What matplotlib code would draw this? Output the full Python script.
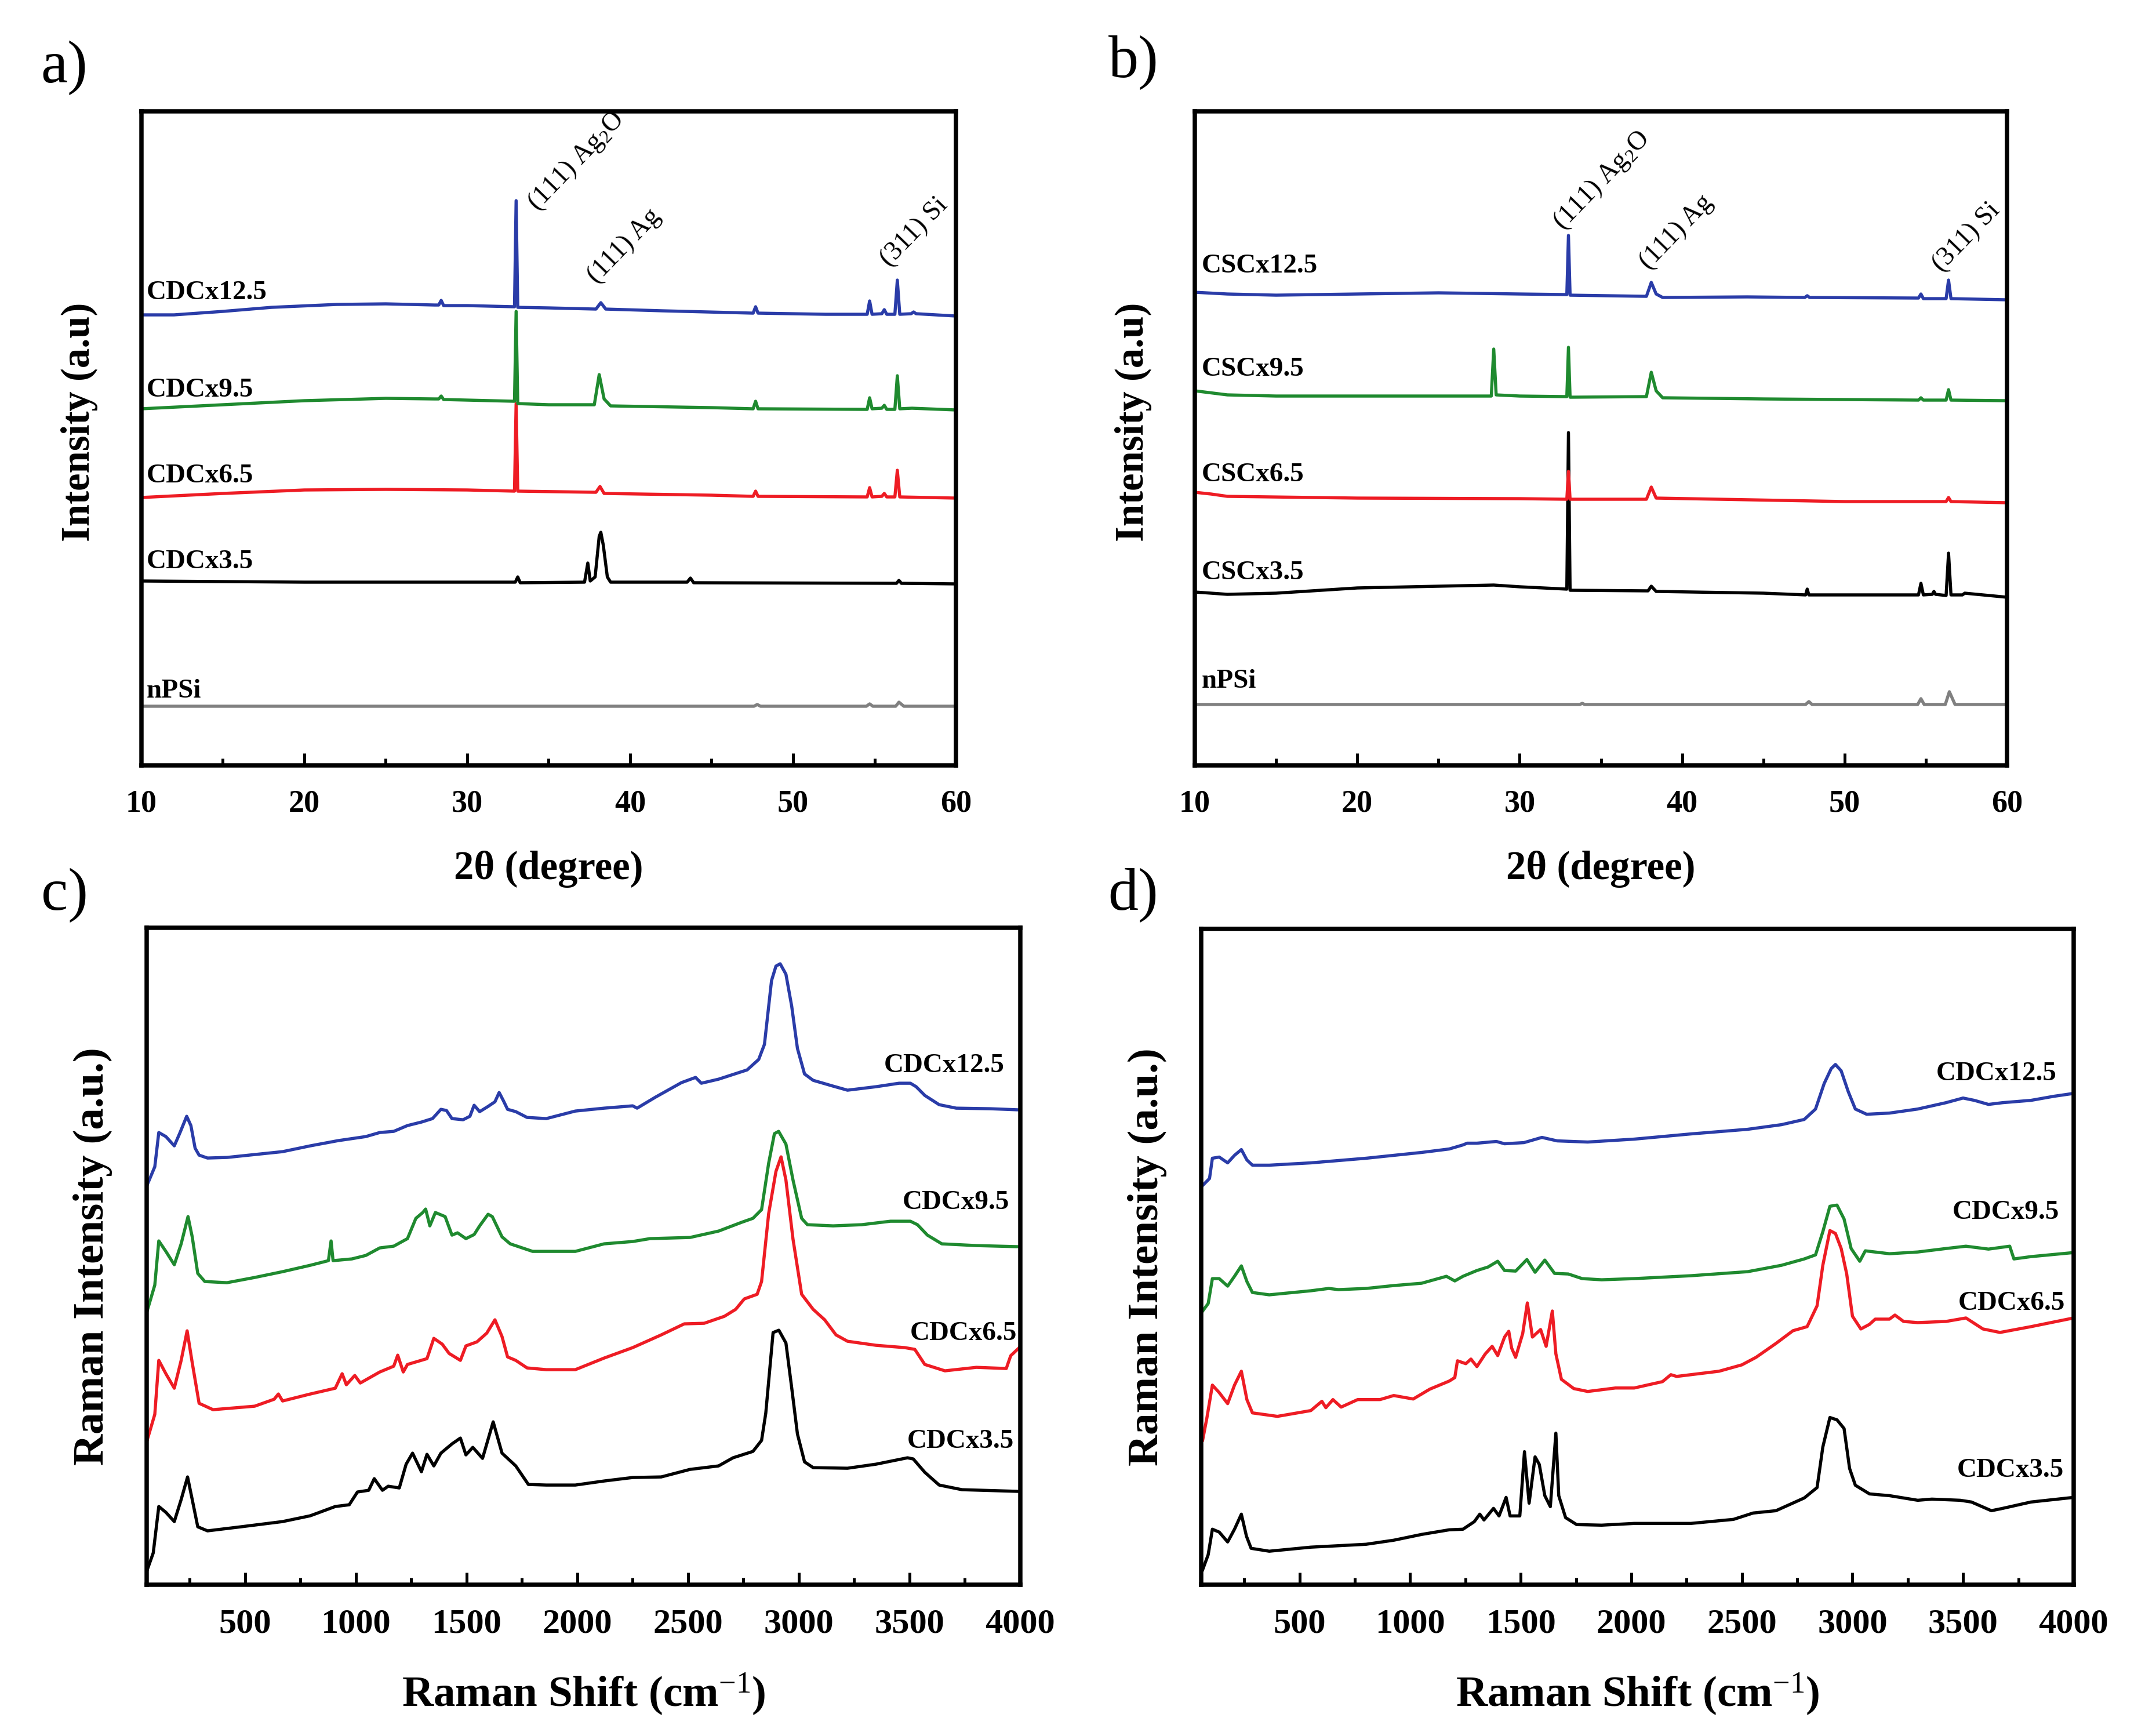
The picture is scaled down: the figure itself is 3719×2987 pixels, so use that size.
import matplotlib
matplotlib.use("Agg")
import matplotlib.pyplot as plt
from matplotlib.ticker import MultipleLocator

plt.rcParams["font.family"] = ["Liberation Serif", "DejaVu Serif"]
plt.rcParams["mathtext.fontset"] = "custom"
plt.rcParams["mathtext.rm"] = "Liberation Serif"
plt.rcParams["mathtext.it"] = "Liberation Serif:italic"
plt.rcParams["mathtext.bf"] = "Liberation Serif:bold"

BLUE = "#2A3CA8"
GREEN = "#1F8A2F"
RED = "#EE1C24"
BLACK = "#000000"
GREY = "#808080"

# ---------------- (a) XRD, CDC samples ----------------
a_cdc125_x = [10, 12, 15, 18, 22, 25, 28, 28.25, 28.4, 28.55, 30, 32.9, 33.0, 33.1, 35, 37.9, 38.2, 38.5,
              42, 47.55, 47.7, 47.85, 52, 54.55, 54.7, 54.85, 55.45, 55.6, 55.75, 56.25, 56.4, 56.55,
              57.25, 57.4, 57.55, 60]
a_cdc125_y = [777, 777, 783, 790, 795, 796, 794, 794, 802, 793, 793, 791, 974, 790, 789, 787, 798, 787,
              784, 780, 791, 780, 778, 778, 801, 778, 779, 786, 778, 778, 837, 778, 779, 782, 779, 775]
a_cdc95_x = [10, 15, 20, 25, 28, 28.25, 28.4, 28.55, 30, 32.9, 33.0, 33.1, 35, 37.8, 38.1, 38.4, 38.8, 45,
             47.55, 47.7, 47.85, 54.55, 54.7, 54.85, 55.45, 55.6, 55.75, 56.25, 56.4, 56.55, 57.3, 60]
a_cdc95_y = [615, 622, 629, 633, 632, 632, 637, 631, 630, 628, 783, 624, 622, 622, 674, 632, 620, 617,
             615, 628, 615, 614, 634, 615, 616, 621, 614, 614, 672, 615, 616, 613]
a_cdc65_x = [10, 15, 20, 25, 30, 32.9, 33.0, 33.1, 37.9, 38.15, 38.4, 45, 47.55, 47.7, 47.85, 54.55, 54.7,
             54.85, 55.45, 55.6, 55.75, 56.25, 56.4, 56.55, 60]
a_cdc65_y = [462, 469, 475, 476, 475, 473, 624, 473, 471, 481, 469, 466, 464, 473, 464, 463, 479,
             463, 464, 469, 463, 463, 509, 463, 461]
a_cdc35_x = [10, 20, 30, 32.95, 33.1, 33.25, 37.2, 37.4, 37.55, 37.85, 38.1, 38.2, 38.35, 38.6, 38.8,
             43.5, 43.7, 43.9, 56.35, 56.5, 56.65, 60]
a_cdc35_y = [318, 316, 316, 316, 325, 315, 316, 349, 318, 325, 395, 402, 380, 325, 316,
             316, 323, 315, 314, 319, 314, 313]
a_npsi_x = [10, 47.6, 47.8, 48.0, 54.5, 54.7, 54.9, 56.3, 56.5, 56.8, 60]
a_npsi_y = [102, 102, 105, 102, 102, 106, 102, 102, 109, 102, 102]

# ---------------- (b) XRD, CSC samples ----------------
b_csc125_x = [10, 12, 15, 20, 25, 30, 32.9, 33.0, 33.1, 37.8, 38.1, 38.4, 38.8, 44, 47.55, 47.7, 47.85,
              54.55, 54.7, 54.85, 56.25, 56.4, 56.55, 60]
b_csc125_y = [816, 813, 811, 813, 815, 813, 812, 914, 811, 809, 833, 813, 807, 808, 807, 810, 807,
              806, 813, 805, 805, 837, 805, 803]
b_csc95_x = [10, 12, 15, 20, 28.25, 28.4, 28.55, 30, 32.9, 33.0, 33.1, 37.8, 38.1, 38.4, 38.8, 45,
             54.55, 54.7, 54.85, 56.25, 56.4, 56.55, 60]
b_csc95_y = [646, 639, 637, 637, 637, 718, 639, 637, 636, 721, 635, 636, 678, 646, 634, 632,
             630, 634, 630, 630, 648, 630, 629]
b_csc65_x = [10, 11, 12, 20, 30, 32.9, 33.0, 33.1, 37.8, 38.1, 38.4, 50, 56.25, 56.4, 56.55, 60]
b_csc65_y = [471, 468, 464, 461, 460, 459, 507, 459, 459, 480, 461, 455, 455, 462, 455, 453]
b_csc35_x = [10, 12, 15, 20, 25, 28.4, 30, 32.9, 33.0, 33.1, 37.9, 38.1, 38.4, 45, 47.6, 47.7, 47.8,
             54.55, 54.7, 54.85, 55.4, 55.5, 55.6, 56.25, 56.4, 56.55, 57.25, 57.4, 60]
b_csc35_y = [299, 295, 297, 306, 309, 311, 308, 304, 574, 302, 301, 309, 300, 297, 294, 304, 294,
             294, 314, 294, 295, 300, 295, 293, 366, 294, 294, 297, 290]
b_npsi_x = [10, 33.7, 33.85, 34.0, 47.6, 47.8, 48.0, 54.5, 54.7, 54.9, 56.2, 56.45, 56.8, 60]
b_npsi_y = [105, 105, 107, 105, 105, 110, 105, 105, 115, 105, 105, 127, 105, 105]

# ---------------- (c) Raman, set 1 ----------------
c_cdc125_x = [58, 92, 110, 142, 180, 205, 236, 255, 274, 292, 330, 418, 543, 669, 794, 920, 1045, 1108,
              1171, 1233, 1296, 1346, 1384, 1409, 1434, 1484, 1515, 1534, 1559, 1597, 1628, 1647, 1666,
              1685, 1722, 1773, 1860, 1991, 2121, 2250, 2270, 2353, 2470, 2534, 2560, 2638, 2767, 2819,
              2845, 2877, 2897, 2916, 2942, 2968, 2994, 3026, 3065, 3155, 3220, 3349, 3453, 3504, 3530,
              3569, 3634, 3711, 3866, 4000]
c_cdc125_y = [690, 721, 780, 773, 757, 779, 808, 792, 753, 741, 736, 737, 742, 747, 757, 766, 773, 780,
              782, 792, 798, 804, 820, 818, 804, 802, 808, 827, 816, 825, 833, 849, 835,
              820, 816, 806, 804, 817, 822, 826, 822, 841, 866, 875, 865, 872, 888, 906,
              932, 1042, 1067, 1071, 1053, 998, 925, 881, 870, 860, 853, 859, 865, 865, 859,
              844, 828, 822, 821, 819]
c_cdc95_x = [58, 92, 110, 142, 180, 211, 242, 261, 286, 318, 418, 543, 669, 794, 876, 888, 897, 982,
             1045, 1108, 1171, 1233, 1271, 1302, 1315, 1334, 1359, 1403, 1434, 1459, 1497, 1534, 1559,
             1597, 1616, 1660, 1697, 1798, 1991, 2121, 2250, 2328, 2509, 2638, 2741, 2793, 2832, 2864,
             2890, 2909, 2942, 2974, 3013, 3039, 3155, 3284, 3414, 3504, 3536, 3581, 3646, 3802, 4000]
c_cdc95_y = [473, 517, 593, 575, 552, 588, 635, 600, 537, 523, 521, 530, 540, 551, 559, 593, 559, 562,
             568, 581, 584, 597, 632, 642, 648, 619, 642, 635, 603, 607, 597, 604, 619,
             639, 635, 600, 588, 575, 575, 588, 592, 597, 599, 610, 625, 632, 647, 727,
             778, 782, 760, 698, 632, 621, 619, 621, 627, 627, 621, 603, 588, 585, 583]
c_cdc65_x = [58, 92, 110, 142, 180, 211, 238, 261, 292, 355, 543, 631, 650, 669, 794, 907, 938, 957, 995,
             1020, 1108, 1171, 1189, 1214, 1233, 1321, 1352, 1390, 1421, 1472, 1497, 1547, 1591, 1628,
             1660, 1685, 1722, 1773, 1860, 1991, 2121, 2250, 2379, 2483, 2573, 2664, 2715, 2754, 2812,
             2832, 2864, 2897, 2920, 2942, 2974, 3013, 3065, 3117, 3168, 3220, 3349, 3479, 3524, 3569,
             3660, 3802, 3937, 3957, 3996]
c_cdc65_y = [250, 294, 387, 364, 339, 387, 438, 383, 313, 302, 308, 320, 329, 317, 329, 339, 364, 345, 361,
             348, 367, 377, 396, 367, 380, 390, 425, 415, 399, 387, 412, 419, 434, 457,
             428, 393, 387, 374, 371, 371, 391, 409, 431, 450, 451, 463, 475, 493, 501,
             523, 640, 713, 738, 698, 596, 501, 475, 457, 431, 420, 413, 409, 406, 380,
             369, 375, 373, 395, 409]
c_cdc35_x = [58, 85, 110, 142, 180, 211, 240, 261, 286, 330, 481, 669, 794, 907, 970, 1007, 1058, 1083,
             1120, 1146, 1196, 1227, 1256, 1296, 1321, 1352, 1384, 1434, 1472, 1497, 1528, 1572, 1620,
             1660, 1722, 1779, 1860, 1991, 2121, 2250, 2379, 2509, 2638, 2703, 2793, 2832, 2851, 2884,
             2910, 2942, 2968, 2994, 3026, 3065, 3220, 3349, 3491, 3517, 3569, 3634, 3737, 4000]
c_cdc35_y = [26, 55, 135, 125, 109, 147, 186, 147, 100, 93, 100, 109, 119, 135, 138, 160, 163, 183,
             163, 170, 167, 208, 227, 195, 225, 205, 227, 243, 253, 224, 237, 218, 281,
             227, 205, 173, 172, 172, 179, 185, 186, 199, 205, 219, 230, 249, 296, 435,
             439, 417, 340, 260, 212, 202, 201, 208, 219, 217, 194, 172, 164, 161]

# ---------------- (d) Raman, set 2 ----------------
d_cdc125_x = [62, 93, 106, 137, 175, 206, 237, 262, 287, 363, 551, 801, 926, 1052, 1177, 1239, 1258, 1302,
              1390, 1427, 1515, 1596, 1665, 1803, 2013, 2269, 2526, 2679, 2782, 2833, 2872, 2904, 2923,
              2949, 2981, 3013, 3064, 3167, 3295, 3423, 3500, 3551, 3615, 3679, 3807, 3910, 4000]
d_cdc125_y = [690, 702, 737, 739, 729, 742, 752, 734, 725, 725, 729, 737, 742, 747, 753, 760, 763, 763,
              766, 762, 764, 773, 767, 765, 770, 779, 787, 795, 804, 822, 866, 892, 899,
              888, 852, 822, 813, 815, 822, 833, 841, 837, 830, 833, 837, 844, 849]
d_cdc95_x = [62, 87, 106, 137, 175, 206, 237, 262, 287, 363, 551, 632, 676, 801, 926, 1052, 1164, 1202,
             1239, 1302, 1352, 1396, 1427, 1477, 1528, 1565, 1609, 1653, 1715, 1778, 1866, 2013, 2269,
             2526, 2679, 2782, 2833, 2866, 2898, 2930, 2962, 2994, 3033, 3058, 3167, 3295, 3423, 3513,
             3615, 3711, 3730, 3807, 4000]
d_cdc95_y = [473, 486, 529, 529, 516, 533, 551, 524, 505, 501, 508, 512, 510, 512, 517, 521, 533, 525,
             533, 543, 549, 559, 543, 542, 562, 540, 561, 538, 537, 529, 527, 529, 534,
             541, 552, 563, 570, 610, 654, 656, 632, 581, 559, 577, 572, 575, 581, 585,
             580, 585, 563, 567, 574]
d_cdc65_x = [62, 81, 106, 137, 175, 206, 237, 262, 287, 400, 551, 601, 619, 651, 688, 763, 864, 926, 1014,
             1089, 1177, 1202, 1214, 1252, 1275, 1302, 1340, 1371, 1396, 1427, 1446, 1459, 1477, 1509,
             1530, 1553, 1590, 1615, 1643, 1659, 1684, 1740, 1803, 1928, 2013, 2141, 2179, 2205, 2397,
             2500, 2564, 2654, 2731, 2795, 2840, 2866, 2898, 2923, 2949, 2974, 3000, 3038, 3077, 3103,
             3167, 3192, 3231, 3295, 3423, 3513, 3590, 3667, 3807, 4000]
d_cdc65_y = [250, 288, 345, 332, 313, 345, 369, 320, 297, 291, 301, 317, 306, 320, 307, 320, 320, 327, 321,
             338, 352, 358, 387, 382, 390, 377, 399, 412, 396, 428, 438, 409, 393, 434,
             487, 428, 441, 412, 473, 399, 355, 339, 334, 340, 340, 351, 363, 360, 369,
             380, 393, 417, 439, 446, 482, 552, 612, 607, 581, 537, 464, 442, 450, 459,
             459, 466, 455, 453, 455, 461, 442, 436, 446, 461]
d_cdc35_x = [62, 87, 106, 137, 175, 206, 237, 260, 281, 363, 551, 801, 926, 1052, 1177, 1239, 1290, 1315,
             1334, 1377, 1402, 1434, 1452, 1496, 1517, 1538, 1565, 1584, 1609, 1634, 1659, 1672, 1703,
             1753, 1866, 2013, 2269, 2462, 2551, 2654, 2782, 2840, 2866, 2898, 2930, 2962, 2987, 3013,
             3077, 3167, 3295, 3359, 3487, 3538, 3628, 3679, 3807, 4000]
d_cdc35_y = [26, 52, 96, 91, 74, 96, 122, 84, 63, 58, 65, 70, 77, 87, 95, 96, 109, 122,
             112, 132, 119, 151, 119, 119, 230, 141, 221, 208, 154, 135, 262, 154, 116,
             104, 103, 106, 106, 113, 124, 128, 150, 168, 238, 289, 285, 270, 201, 172,
             157, 154, 146, 148, 146, 143, 128, 132, 143, 151]

# curve labels: (text, x, y)
a_labels = [("CDCx12.5", 10.3, 804), ("CDCx9.5", 10.3, 636), ("CDCx6.5", 10.3, 488),
            ("CDCx3.5", 10.3, 340), ("nPSi", 10.3, 117)]
b_labels = [("CSCx12.5", 10.4, 850), ("CSCx9.5", 10.4, 672), ("CSCx6.5", 10.4, 490),
            ("CSCx3.5", 10.4, 321), ("nPSi", 10.4, 134)]
c_labels = [("CDCx12.5", 3930, 884), ("CDCx9.5", 3951, 648), ("CDCx6.5", 3984, 422),
            ("CDCx3.5", 3971, 236)]
d_labels = [("CDCx12.5", 3923, 872), ("CDCx9.5", 3936, 632), ("CDCx6.5", 3961, 475),
            ("CDCx3.5", 3955, 186)]
a_peaks = [("(111) Ag$_2$O", 34.6, 947), ("(111) Ag", 38.2, 823), ("(311) Si", 56.15, 852)]
b_peaks = [("(111) Ag$_2$O", 32.95, 914), ("(111) Ag", 38.2, 847), ("(311) Si", 56.2, 843)]

fig = plt.figure(figsize=(3719 / 300, 2987 / 300), dpi=300)
ax_a = fig.add_axes([0.0656, 0.5581, 0.3778, 0.3776])
ax_b = fig.add_axes([0.5542, 0.5581, 0.3767, 0.3776])
ax_c = fig.add_axes([0.0680, 0.0850, 0.4052, 0.3793])
ax_d = fig.add_axes([0.5571, 0.0850, 0.4047, 0.3786])

LW = 1.3


def style(ax, major, minor, tick_size):
    for s in ax.spines.values():
        s.set_linewidth(1.8)
    ax.xaxis.set_major_locator(MultipleLocator(major))
    ax.xaxis.set_minor_locator(MultipleLocator(minor))
    ax.tick_params(axis="x", which="both", direction="in", top=False, width=1.2,
                   labelsize=tick_size, pad=10)
    ax.tick_params(axis="x", which="major", length=5)
    ax.tick_params(axis="x", which="minor", length=3)
    ax.tick_params(axis="y", which="both", left=False, right=False, labelleft=False)
    for lab in ax.get_xticklabels():
        lab.set_fontweight("bold")


# XRD panels
for ax, series, labels, peaks in [
    (ax_a, [(a_npsi_x, a_npsi_y, GREY), (a_cdc35_x, a_cdc35_y, BLACK), (a_cdc65_x, a_cdc65_y, RED),
            (a_cdc95_x, a_cdc95_y, GREEN), (a_cdc125_x, a_cdc125_y, BLUE)], a_labels, a_peaks),
    (ax_b, [(b_npsi_x, b_npsi_y, GREY), (b_csc35_x, b_csc35_y, BLACK), (b_csc65_x, b_csc65_y, RED),
            (b_csc95_x, b_csc95_y, GREEN), (b_csc125_x, b_csc125_y, BLUE)], b_labels, b_peaks),
]:
    for x, y, col in series:
        ax.plot(x, y, color=col, lw=LW)
    ax.set_xlim(10, 60)
    ax.set_ylim(0, 1128)
    style(ax, 10, 5, 13)
    for txt, x, y in labels:
        ax.text(x, y, txt, fontsize=11.3, fontweight="bold", ha="left", va="baseline")
    for txt, x, y in peaks:
        ax.text(x, y, txt, fontsize=11, rotation=46, rotation_mode="anchor",
                ha="left", va="bottom")
    ax.set_xlabel("2θ (degree)", fontsize=16.5, fontweight="bold")
    ax.xaxis.set_label_coords(0.5, -0.130)
    ax.set_ylabel("Intensity (a.u)", fontsize=16.5, fontweight="bold")
    ax.yaxis.set_label_coords(-0.053, 0.525)

# Raman panels
for ax, series, labels in [
    (ax_c, [(c_cdc35_x, c_cdc35_y, BLACK), (c_cdc65_x, c_cdc65_y, RED),
            (c_cdc95_x, c_cdc95_y, GREEN), (c_cdc125_x, c_cdc125_y, BLUE)], c_labels),
    (ax_d, [(d_cdc35_x, d_cdc35_y, BLACK), (d_cdc65_x, d_cdc65_y, RED),
            (d_cdc95_x, d_cdc95_y, GREEN), (d_cdc125_x, d_cdc125_y, BLUE)], d_labels),
]:
    for x, y, col in series:
        ax.plot(x, y, color=col, lw=LW)
    ax.set_xlim(55, 4000)
    ax.set_ylim(0, 1133)
    style(ax, 500, 250, 14.5)
    for txt, x, y in labels:
        ax.text(x, y, txt, fontsize=11.3, fontweight="bold", ha="right", va="baseline")
    ax.set_xlabel("Raman Shift (cm$^{-1}$)", fontsize=18, fontweight="bold")
    ax.xaxis.set_label_coords(0.5, -0.132)
    ax.set_ylabel("Raman Intensity (a.u.)", fontsize=18, fontweight="bold")
    ax.yaxis.set_label_coords(-0.039, 0.5)

# panel letters
for txt, x, y in [("a)", 0.019, 0.961), ("b)", 0.514, 0.964), ("c)", 0.019, 0.483), ("d)", 0.514, 0.483)]:
    fig.text(x, y, txt, fontsize=25, ha="left", va="center")

fig.savefig("out.png", dpi=300)
